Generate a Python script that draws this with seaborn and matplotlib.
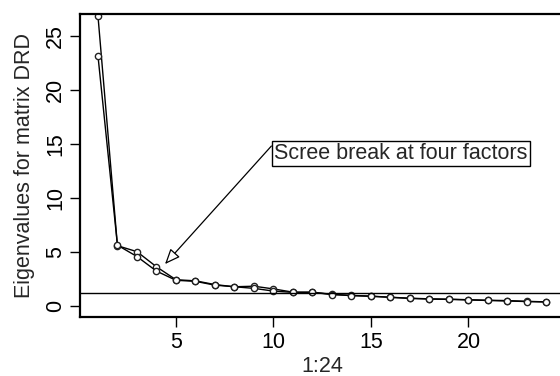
import matplotlib
matplotlib.use("Agg")
import matplotlib.pyplot as plt
import seaborn as sns
import pandas as pd
import numpy as np

sns.set_style("white")
plt.rcParams['font.family'] = ['Liberation Sans', 'DejaVu Sans']

factors = list(range(1, 25))
eig_a = [26.9, 5.6, 5.05, 3.65, 2.45, 2.35, 2.0, 1.8, 1.85, 1.6, 1.3, 1.3, 1.1, 1.0,
         0.93, 0.83, 0.74, 0.68, 0.65, 0.6, 0.55, 0.52, 0.45, 0.4]
eig_b = [23.2, 5.65, 4.6, 3.25, 2.4, 2.3, 1.95, 1.8, 1.65, 1.4, 1.28, 1.28, 1.08, 0.98,
         0.92, 0.82, 0.72, 0.66, 0.63, 0.58, 0.53, 0.48, 0.43, 0.39]
cutoff = 1.2
ylabel = "Eigenvalues for matrix DRD"
xlabel = "1:24"
note = "Scree break at four factors"

df = pd.DataFrame({"x": factors * 2,
                   "y": eig_a + eig_b,
                   "s": ["a"] * 24 + ["b"] * 24})

FS = 15.5
fig = plt.figure(figsize=(5.6, 3.76), dpi=100)
ax = fig.add_axes([80 / 560, 59 / 376, 484.4 / 560, 303 / 376])
for key in ["a", "b"]:
    sub = df[df.s == key]
    sns.lineplot(data=sub, x="x", y="y", ax=ax, color="black", linewidth=1.0,
                 marker="o", markersize=4.5, markerfacecolor="white",
                 markeredgecolor="#222222", markeredgewidth=1.0, legend=False)
ax.axhline(cutoff, color="black", linewidth=1.0)

ax.set_xlim(0.08, 24.92)
ax.set_ylim(-1.0, 27.05)
ax.set_xticks([5, 10, 15, 20])
ax.set_yticks([0, 5, 10, 15, 20, 25])
ax.tick_params(axis="both", direction="out", length=7, width=1, labelsize=FS,
               bottom=True, left=True, colors="black")
for lab in ax.get_yticklabels():
    lab.set_rotation(90)
    lab.set_va("center")
ax.tick_params(axis="y", pad=3)
ax.tick_params(axis="x", pad=4)
ax.set_xlabel(xlabel, fontsize=FS, labelpad=2)
ax.set_ylabel(ylabel, fontsize=FS, labelpad=7)
for sp in ax.spines.values():
    sp.set_color("black")
    sp.set_linewidth(1.6)

ax.annotate(note, xy=(4.44, 3.9), xytext=(10.03, 15.1),
            fontsize=FS, ha="left", va="top",
            bbox=dict(boxstyle="square,pad=0.1", fc="white", ec="black", lw=1.0),
            arrowprops=dict(arrowstyle="-|>,head_length=0.6,head_width=0.25",
                            fc="white", ec="black", lw=0.9,
                            shrinkA=0, shrinkB=0, relpos=(0, 1)))

fig.savefig("out.png", dpi=100)
